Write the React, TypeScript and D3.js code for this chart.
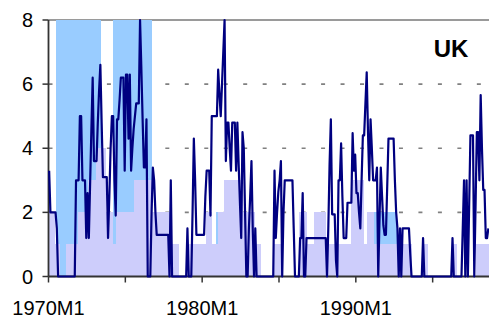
import React from 'react';
import * as d3 from 'd3';

const W = 489;
const H = 320;

// categories: monthly, 1970M1 .. 1998M8
const monthCount = 344;
const months: string[] = d3.range(monthCount).map(i => `${1970 + Math.floor(i / 12)}M${(i % 12) + 1}`);

// x-axis tick months and labelled ticks
const tickMonths = ['1970M1', '1975M1', '1980M1', '1985M1', '1990M1', '1995M1'];
const labelMonths = ['1970M1', '1980M1', '1990M1'];
const yTicks = [0, 2, 4, 6, 8];
const yGrid = [2, 4, 6];
const title = 'UK';

// navy line series (monthly)
const lineValues: number[] = [
  3.3, 2.0, 2.0, 2.0, 2.0, 2.0, 1.5, 0, 0, 0, 0, 0, // 1970
  0, 0, 0, 0, 0, 0, 0, 0, 0, 3.0, 3.0, 3.0, // 1971
  5.0, 5.0, 3.0, 3.0, 3.0, 1.2, 2.6, 1.2, 2.9, 4.6, 6.2, 3.6, // 1972
  3.6, 3.6, 4.8, 5.8, 6.6, 4.8, 3.1, 3.1, 3.1, 3.1, 1.2, 2.5, // 1973
  4.0, 5.0, 5.0, 3.0, 1.9, 4.9, 4.9, 5.5, 6.2, 6.2, 6.2, 3.3, // 1974
  6.3, 6.3, 4.3, 6.3, 3.3, 4.0, 4.6, 5.0, 5.4, 5.4, 5.4, 8.0, // 1975
  6.5, 4.9, 3.4, 3.4, 4.9, 0, 0, 0, 2.0, 3.4, 3.0, 2.0, // 1976
  1.3, 1.3, 1.3, 1.3, 1.3, 1.3, 1.3, 1.3, 1.3, 1.3, 0, 3.0, // 1977
  0, 0, 0, 0, 0, 0, 0, 0, 0, 0, 0, 0, // 1978
  1.5, 0, 0, 0, 2.0, 4.3, 3.0, 1.3, 1.3, 1.3, 1.3, 1.3, // 1979
  1.3, 1.3, 2.5, 3.3, 3.3, 3.3, 1.9, 5.0, 5.0, 5.0, 5.0, 5.0, // 1980
  6.45, 5.7, 5.0, 6.0, 7.0, 8.0, 3.6, 4.8, 4.8, 4.0, 3.3, 4.8, // 1981
  4.8, 4.8, 3.3, 4.8, 3.5, 2.3, 1.2, 4.5, 4.0, 2.0, 0, 0, // 1982
  1.5, 2.5, 3.6, 1.5, 0, 1.5, 0, 0, 0, 0, 0, 0, // 1983
  0, 0, 0, 0, 0, 0, 0, 0, 3.3, 1.2, 2.0, 2.65, // 1984
  3.0, 3.6, 0, 2.0, 3.0, 3.0, 3.0, 3.0, 3.0, 3.0, 3.0, 1.5, // 1985
  0, 0, 0, 0, 1.2, 1.2, 2.6, 0, 0, 1.2, 1.2, 1.2, // 1986
  1.2, 1.2, 1.2, 1.2, 1.2, 1.2, 1.2, 1.2, 1.2, 1.2, 1.2, 1.2, // 1987
  1.2, 0, 1.5, 3.5, 4.9, 1.94, 1.94, 1.94, 0.5, 0, 3.0, 3.0, // 1988
  4.15, 2.5, 1.2, 1.2, 1.2, 2.3, 2.3, 2.3, 2.3, 4.47, 3.3, 3.8, // 1989
  2.6, 2.6, 2.0, 1.5, 3.0, 4.4, 4.4, 5.4, 6.37, 4.5, 3.0, 4.9, // 1990
  4.0, 3.0, 3.0, 3.0, 3.4, 0, 1.8, 3.4, 2.5, 1.6, 1.3, 1.3, // 1991
  2.8, 4.3, 4.3, 4.3, 4.3, 4.3, 3.0, 2.0, 1.5, 0, 1.5, 0, // 1992
  1.5, 1.5, 1.5, 1.5, 1.5, 1.5, 0.7, 0, 0, 0, 0, 0, // 1993
  0, 0, 0, 0, 1.2, 0, 0, 0, 0, 0, 0, 0, // 1994
  0, 0, 0, 0, 0, 0, 0, 0, 0, 0, 0, 0, // 1995
  0, 0, 0, 1.2, 0, 0, 0, 0, 0, 0, 0, 1.5, // 1996
  3.0, 0, 3.0, 0, 2.2, 4.4, 4.4, 4.4, 0, 2.2, 4.5, 4.5, // 1997
  3.0, 5.66, 4.0, 2.7, 2.7, 1.2, 1.2, 1.5, // 1998
];

// lavender bar series (monthly)
const lavenderValues: number[] = [
  2, 2, 2, 2, 2, 1, 1, 1, 1, 0, 0, 0, // 1970
  0, 0, 1, 1, 1, 1, 1, 1, 1, 1, 1, 2, // 1971
  2, 2, 2, 2, 2, 2, 2, 3, 3, 3, 3, 3, // 1972
  3, 4, 4, 4, 4, 4, 4, 4, 4, 2, 2, 2, // 1973
  2, 2, 1, 1, 1, 2, 2, 2, 2, 2, 2, 2, // 1974
  2, 2, 2, 2, 2, 2, 2, 3, 3, 3, 3, 3, // 1975
  3, 3, 3, 3, 3, 3, 3, 3, 3, 2, 2, 2, // 1976
  2, 2, 2, 2, 2, 2, 2, 2, 2, 2, 2, 1, // 1977
  1, 1, 1, 1, 1, 1, 0, 0, 0, 0, 0, 0, // 1978
  0, 1, 1, 1, 1, 1, 1, 1, 1, 1, 1, 1, // 1979
  1, 1, 1, 2, 2, 2, 2, 2, 1, 1, 1, 1, // 1980
  2, 2, 2, 2, 2, 3, 3, 3, 3, 3, 3, 3, // 1981
  3, 3, 3, 3, 3, 3, 3, 3, 2, 2, 2, 2, // 1982
  2, 2, 2, 2, 2, 1, 1, 1, 1, 1, 0, 0, // 1983
  0, 0, 0, 0, 0, 0, 0, 0, 1, 1, 1, 1, // 1984
  1, 1, 0, 0, 0, 0, 0, 0, 0, 0, 0, 0, // 1985
  0, 0, 0, 0, 2, 2, 2, 2, 2, 2, 1, 1, // 1986
  1, 1, 1, 2, 2, 2, 2, 2, 2, 2, 2, 2, // 1987
  2, 1, 1, 1, 1, 1, 1, 1, 1, 1, 1, 1, // 1988
  1, 1, 1, 1, 1, 1, 1, 1, 3, 3, 3, 3, // 1989
  3, 3, 3, 3, 3, 3, 1, 1, 1, 2, 2, 2, // 1990
  2, 2, 1, 1, 1, 1, 1, 1, 1, 1, 1, 1, // 1991
  1, 1, 1, 1, 1, 1, 1, 1, 1, 1, 1, 1, // 1992
  1, 1, 1, 1, 1, 1, 1, 1, 0, 0, 0, 0, // 1993
  0, 0, 0, 0, 1, 1, 1, 1, 0, 0, 0, 0, // 1994
  0, 0, 0, 0, 0, 0, 0, 0, 0, 0, 0, 0, // 1995
  0, 0, 0, 1, 1, 1, 1, 0, 0, 0, 0, 0, // 1996
  0, 0, 0, 0, 0, 0, 0, 0, 0, 0, 1, 1, // 1997
  1, 1, 1, 1, 1, 1, 1, 1, // 1998
];

// light-blue bar series (monthly)
const blueValues: number[] = [
  0, 0, 0, 0, 0, 0, 8, 8, 8, 8, 8, 8, // 1970
  8, 8, 8, 8, 8, 8, 8, 8, 8, 8, 8, 8, // 1971
  8, 8, 8, 8, 8, 8, 8, 8, 8, 8, 8, 8, // 1972
  8, 8, 8, 8, 8, 0, 0, 0, 0, 0, 0, 0, // 1973
  0, 0, 8, 8, 8, 8, 8, 8, 8, 8, 8, 8, // 1974
  8, 8, 8, 8, 8, 8, 8, 8, 8, 8, 8, 8, // 1975
  8, 8, 8, 8, 8, 8, 8, 8, 8, 0, 0, 0, // 1976
  0, 0, 0, 0, 0, 0, 0, 0, 0, 0, 0, 0, // 1977
  0, 0, 0, 0, 0, 0, 0, 0, 0, 0, 0, 0, // 1978
  0, 0, 0, 0, 0, 0, 0, 0, 0, 0, 0, 0, // 1979
  0, 0, 0, 0, 0, 0, 0, 0, 0, 0, 0, 2, // 1980
  0, 0, 0, 0, 0, 0, 0, 0, 0, 0, 0, 0, // 1981
  0, 0, 0, 0, 0, 0, 0, 0, 0, 0, 0, 0, // 1982
  0, 0, 0, 0, 0, 0, 0, 0, 0, 0, 0, 0, // 1983
  0, 0, 0, 0, 0, 0, 0, 0, 0, 0, 0, 0, // 1984
  0, 0, 0, 0, 0, 0, 0, 0, 0, 0, 0, 0, // 1985
  0, 0, 0, 0, 0, 0, 0, 0, 0, 0, 0, 0, // 1986
  0, 0, 0, 0, 0, 0, 0, 0, 0, 0, 0, 0, // 1987
  0, 0, 0, 0, 0, 0, 0, 0, 0, 0, 0, 0, // 1988
  0, 0, 0, 0, 0, 0, 0, 0, 0, 0, 0, 0, // 1989
  0, 0, 0, 0, 0, 0, 0, 0, 0, 0, 0, 0, // 1990
  2, 2, 2, 2, 2, 2, 2, 2, 2, 2, 2, 2, // 1991
  2, 2, 2, 2, 2, 2, 2, 2, 0, 0, 0, 0, // 1992
  0, 0, 0, 0, 0, 0, 0, 0, 0, 0, 0, 0, // 1993
  0, 0, 0, 0, 0, 0, 0, 0, 0, 0, 0, 0, // 1994
  0, 0, 0, 0, 0, 0, 0, 0, 0, 0, 0, 0, // 1995
  0, 0, 0, 0, 0, 0, 0, 0, 0, 0, 0, 0, // 1996
  0, 0, 0, 0, 0, 0, 0, 0, 0, 0, 0, 0, // 1997
  0, 0, 0, 0, 0, 0, 0, 0, // 1998
];

const FONT = '"Liberation Sans", Arial, Helvetica, sans-serif';

export default function App() {
  const x = d3.scaleBand<string>().domain(months).range([48.5, 489]).padding(0);
  const y = d3.scaleLinear().domain([0, 8]).range([276.5, 20]);
  const bw = x.bandwidth();
  const x0 = x.range()[0];
  const x1 = x.range()[1];

  const line = d3
    .line<number>()
    .x((_, i) => (x(months[i]) as number) + bw / 2)
    .y(d => y(d));

  return (
    <>
      <style>{'body{margin:0}'}</style>
      <svg width={W} height={H} style={{ display: 'block', background: '#fff' }}>
        {/* gridlines */}
        {yGrid.map(v => (
          <line key={v} x1={x0} x2={x1} y1={y(v)} y2={y(v)} stroke="#808080" strokeWidth={1.6} strokeDasharray="4 15.47" />
        ))}
        <line x1={x0} x2={x1} y1={y(8)} y2={y(8)} stroke="#9a9a9a" strokeWidth={2} />

        {/* light-blue bars */}
        <g fill="#99ccff" shapeRendering="crispEdges">
          {blueValues.map((v, i) =>
            v > 0 ? <rect key={i} x={x(months[i])} width={bw} y={y(v)} height={y(0) - y(v)} /> : null
          )}
        </g>
        {/* lavender bars */}
        <g fill="#cdcdfb" shapeRendering="crispEdges">
          {lavenderValues.map((v, i) =>
            v > 0 ? <rect key={i} x={x(months[i])} width={bw} y={y(v)} height={y(0) - y(v)} /> : null
          )}
        </g>

        {/* axes */}
        <line x1={x0} x2={x0} y1={y(8)} y2={y(0)} stroke="#333" strokeWidth={1.8} />
        <line x1={x0} x2={x1} y1={y(0)} y2={y(0)} stroke="#333" strokeWidth={1.8} />
        {yTicks.map(v => (
          <g key={v}>
            <line x1={x0 - 6} x2={x0} y1={y(v)} y2={y(v)} stroke="#333" strokeWidth={1.5} />
            <text x={33} y={y(v)} dy="0.35em" textAnchor="end" fontFamily={FONT} fontSize={20} fill="#000">
              {v}
            </text>
          </g>
        ))}
        {tickMonths.map(m => (
          <line key={m} x1={x(m)} x2={x(m)} y1={y(0)} y2={y(0) + 6} stroke="#333" strokeWidth={1.5} />
        ))}
        {labelMonths.map(m => (
          <text key={m} x={x(m)} y={315} textAnchor="middle" fontFamily={FONT} fontSize={20} fill="#000">
            {m}
          </text>
        ))}

        {/* line series */}
        <path d={line(lineValues) || ''} fill="none" stroke="#000080" strokeWidth={2.2} strokeLinejoin="round" />

        <text x={451} y={56.5} textAnchor="middle" fontFamily={FONT} fontSize={24} fontWeight="bold" fill="#000">
          {title}
        </text>
      </svg>
    </>
  );
}
